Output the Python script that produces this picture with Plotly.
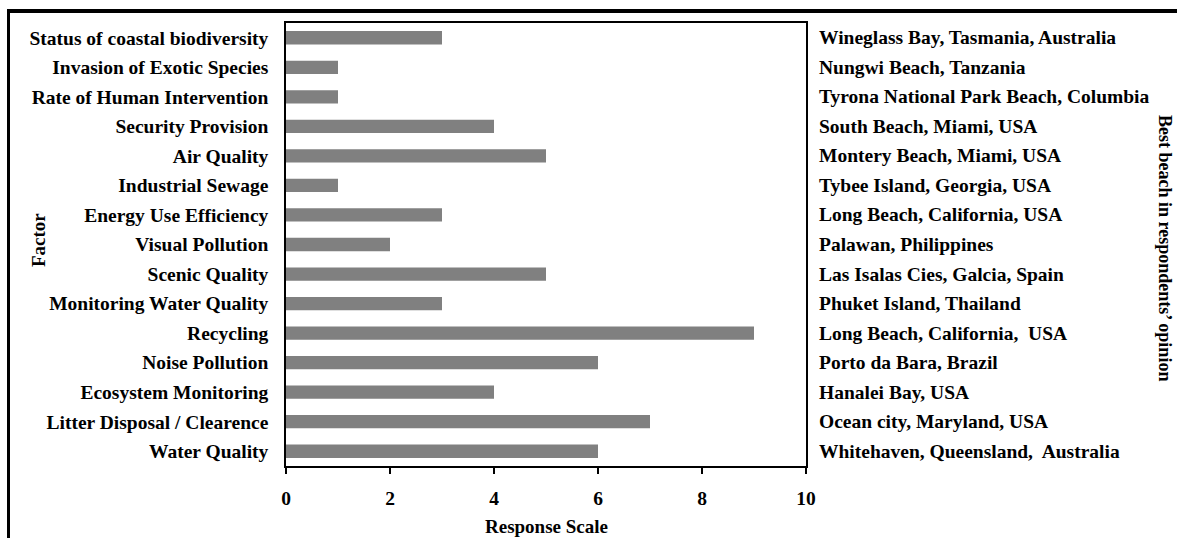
import plotly.graph_objects as go

factors = [
    "Status of coastal biodiversity",
    "Invasion of Exotic Species",
    "Rate of Human Intervention",
    "Security Provision",
    "Air Quality",
    "Industrial Sewage",
    "Energy Use Efficiency",
    "Visual Pollution",
    "Scenic Quality",
    "Monitoring Water Quality",
    "Recycling",
    "Noise Pollution",
    "Ecosystem Monitoring",
    "Litter Disposal / Clearence",
    "Water Quality",
]
responses = [3, 1, 1, 4, 5, 1, 3, 2, 5, 3, 9, 6, 4, 7, 6]
beaches = [
    "Wineglass Bay, Tasmania, Australia",
    "Nungwi Beach, Tanzania",
    "Tyrona National Park Beach, Columbia",
    "South Beach, Miami, USA",
    "Montery Beach, Miami, USA",
    "Tybee Island, Georgia, USA",
    "Long Beach, California, USA",
    "Palawan, Philippines",
    "Las Isalas Cies, Galcia, Spain",
    "Phuket Island, Thailand",
    "Long Beach, California,  USA",
    "Porto da Bara, Brazil",
    "Hanalei Bay, USA",
    "Ocean city, Maryland, USA",
    "Whitehaven, Queensland,  Australia",
]
x_ticks = [0, 2, 4, 6, 8, 10]

FONT = "Liberation Serif"
FS = 19.5

W, H = 1177, 538
L, R, T, B = 286, 806, 23, 466
pw, ph = R - L, B - T


def px(x):
    return (x - L) / pw


def py(y):
    return (B - y) / ph


fig = go.Figure(go.Bar(
    x=responses, y=factors, orientation="h",
    marker=dict(color="#808080", line=dict(width=0)),
    width=0.45,
))

annotations = []
for f, b in zip(factors, beaches):
    annotations.append(dict(
        x=1, xref="paper", y=f, yref="y", text="<b>" + b + "</b>",
        showarrow=False, xanchor="left", xshift=11,
        font=dict(family=FONT, size=FS, color="black"),
    ))
annotations.append(dict(
    x=px(1165), xref="paper", y=py(248), yref="paper",
    text="<b>Best beach in respondents’ opinion</b>", textangle=90,
    showarrow=False, xanchor="center", yanchor="middle",
    font=dict(family=FONT, size=18, color="black"),
))
annotations.append(dict(
    x=px(38), xref="paper", y=py(240), yref="paper",
    text="<b>Factor</b>", textangle=-90,
    showarrow=False, xanchor="center", yanchor="middle",
    font=dict(family=FONT, size=19, color="black"),
))
annotations.append(dict(
    x=0.5, xref="paper", y=py(526), yref="paper",
    text="<b>Response Scale</b>",
    showarrow=False, xanchor="center", yanchor="middle",
    font=dict(family=FONT, size=19, color="black"),
))

shapes = [
    dict(type="line", xref="paper", yref="paper", x0=px(7), x1=px(1180),
         y0=py(11), y1=py(11), line=dict(color="black", width=4)),
    dict(type="line", xref="paper", yref="paper", x0=px(8.5), x1=px(8.5),
         y0=py(9), y1=py(545), line=dict(color="black", width=3)),
]

fig.update_layout(
    width=W, height=H,
    margin=dict(l=L, r=W - R, t=T, b=H - B, autoexpand=False),
    paper_bgcolor="white", plot_bgcolor="white",
    showlegend=False,
    bargap=0.55,
    font=dict(family=FONT, size=FS, color="black"),
    xaxis=dict(
        range=[0, 10], tickvals=x_ticks,
        ticktext=["<b>%d</b>" % v for v in x_ticks],
        showgrid=False, zeroline=False,
        showline=True, linecolor="black", linewidth=1.5, mirror=True,
        ticks="outside", ticklen=6, tickcolor="black", tickwidth=1.5,
        tickfont=dict(family=FONT, size=FS, color="black"),
        ticklabelstandoff=8,
    ),
    yaxis=dict(
        autorange="reversed",
        tickvals=factors, ticktext=["<b>" + f + "</b>" for f in factors],
        showgrid=False, zeroline=False,
        showline=True, linecolor="black", linewidth=1.5, mirror=True,
        ticks="", ticklabelstandoff=12,
        tickfont=dict(family=FONT, size=FS, color="black"),
    ),
    annotations=annotations,
    shapes=shapes,
)

fig.write_html(
    "out.html",
    config={"displayModeBar": False},
    post_script="document.body.style.margin='0';document.body.style.overflow='hidden';",
)
